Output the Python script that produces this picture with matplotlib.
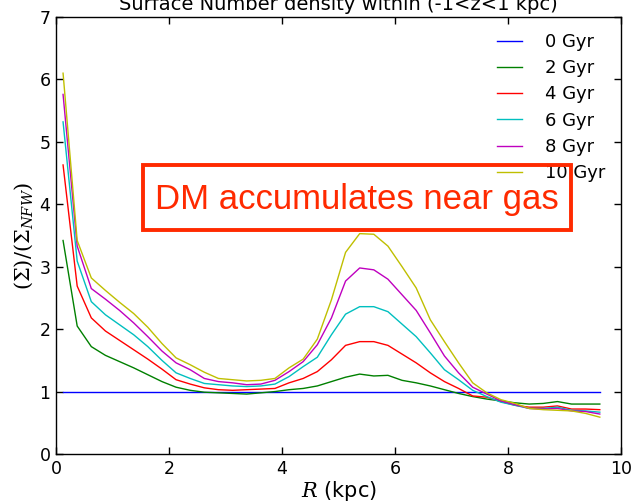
import matplotlib
matplotlib.use("Agg")
import matplotlib.pyplot as plt
from matplotlib.patches import Rectangle

# Radial bin centres (kpc)
R = [0.125, 0.375, 0.625, 0.875, 1.125, 1.375, 1.625, 1.875, 2.125, 2.375,
     2.625, 2.875, 3.125, 3.375, 3.625, 3.875, 4.125, 4.375, 4.625, 4.875,
     5.125, 5.375, 5.625, 5.875, 6.125, 6.375, 6.625, 6.875, 7.125, 7.375,
     7.625, 7.875, 8.125, 8.375, 8.625, 8.875, 9.125, 9.375, 9.625]

gyr0 = [1.0] * 39
gyr2 = [3.42, 2.05, 1.72, 1.58, 1.48, 1.38, 1.27, 1.16, 1.07, 1.02,
        0.99, 0.98, 0.97, 0.96, 0.98, 1.00, 1.03, 1.05, 1.09, 1.16,
        1.23, 1.28, 1.25, 1.26, 1.18, 1.14, 1.09, 1.03, 0.97, 0.92,
        0.88, 0.85, 0.82, 0.80, 0.81, 0.84, 0.80, 0.80, 0.80]
gyr4 = [4.63, 2.69, 2.18, 1.97, 1.82, 1.67, 1.52, 1.36, 1.19, 1.12,
        1.06, 1.03, 1.02, 1.03, 1.04, 1.05, 1.14, 1.21, 1.32, 1.51,
        1.74, 1.80, 1.80, 1.74, 1.60, 1.46, 1.30, 1.16, 1.05, 0.93,
        0.91, 0.84, 0.78, 0.75, 0.75, 0.77, 0.72, 0.72, 0.71]
gyr6 = [5.32, 3.09, 2.44, 2.23, 2.07, 1.91, 1.72, 1.50, 1.30, 1.21,
        1.13, 1.11, 1.09, 1.08, 1.09, 1.12, 1.24, 1.40, 1.55, 1.91,
        2.24, 2.36, 2.36, 2.28, 2.08, 1.88, 1.62, 1.35, 1.19, 1.02,
        0.92, 0.83, 0.78, 0.73, 0.73, 0.75, 0.70, 0.69, 0.67]
gyr8 = [5.76, 3.33, 2.65, 2.48, 2.30, 2.10, 1.88, 1.65, 1.46, 1.35,
        1.21, 1.16, 1.14, 1.11, 1.12, 1.18, 1.32, 1.48, 1.75, 2.18,
        2.77, 2.98, 2.95, 2.80, 2.55, 2.30, 1.94, 1.57, 1.30, 1.07,
        0.96, 0.85, 0.79, 0.73, 0.72, 0.73, 0.69, 0.68, 0.64]
gyr10 = [6.10, 3.42, 2.82, 2.62, 2.43, 2.25, 2.03, 1.77, 1.54, 1.43,
         1.31, 1.21, 1.19, 1.17, 1.18, 1.21, 1.38, 1.52, 1.84, 2.47,
         3.23, 3.53, 3.52, 3.33, 3.00, 2.66, 2.15, 1.80, 1.46, 1.14,
         0.98, 0.87, 0.81, 0.73, 0.71, 0.70, 0.69, 0.65, 0.59]

series = [gyr0, gyr2, gyr4, gyr6, gyr8, gyr10]
labels = ["0 Gyr", "2 Gyr", "4 Gyr", "6 Gyr", "8 Gyr", "10 Gyr"]
colors = ["b", "g", "r", "c", "m", "y"]

plt.rcParams['font.family'] = ['DejaVu Sans']
plt.rcParams['mathtext.fontset'] = 'dejavuserif'

W, H = 631, 503
fig = plt.figure(figsize=(W/100, H/100), dpi=100)
ax = fig.add_axes([56/W, 1-454/H, (621-56)/W, (454-17)/H])

for ys, lab, c in zip(series, labels, colors):
    ax.plot(R, ys, color=c, lw=1.0, label=lab)

ax.set_xlim(0, 10)
ax.set_ylim(0, 7)
ax.set_xticks([0, 2, 4, 6, 8, 10])
ax.set_yticks(range(0, 8))
ax.tick_params(direction='in', top=True, right=True, length=5, width=1,
               labelsize=12.5, pad=4)
for s in ax.spines.values():
    s.set_linewidth(1.0)

ax.set_xlabel(r"$R$ (kpc)", fontsize=15, labelpad=1)
ax.set_ylabel(r"$(\Sigma)/(\Sigma_{NFW})$", fontsize=15, labelpad=3)
ax.set_title("Surface Number density within (-1<z<1 kpc)", fontsize=14, pad=5)

leg = ax.legend(loc='upper right', frameon=False, fontsize=13,
                handlelength=1.4, labelspacing=0.46, handletextpad=1.25,
                borderaxespad=0.6, bbox_to_anchor=(1.004, 1.005))
leg.set_zorder(11)

# annotation box (outline only, legend shows through)
fig.patches.append(Rectangle((143/W, 1-230/H), (571-143)/W, (230-165)/H,
                             transform=fig.transFigure, facecolor='none',
                             edgecolor='#ff2a00', linewidth=2.8, zorder=9))
fig.text(357/W, 1-199/H, "DM accumulates near gas", color='#ff2a00',
         fontsize=25, family='Liberation Sans', ha='center', va='center',
         zorder=10)

fig.savefig("out.png", dpi=100)
